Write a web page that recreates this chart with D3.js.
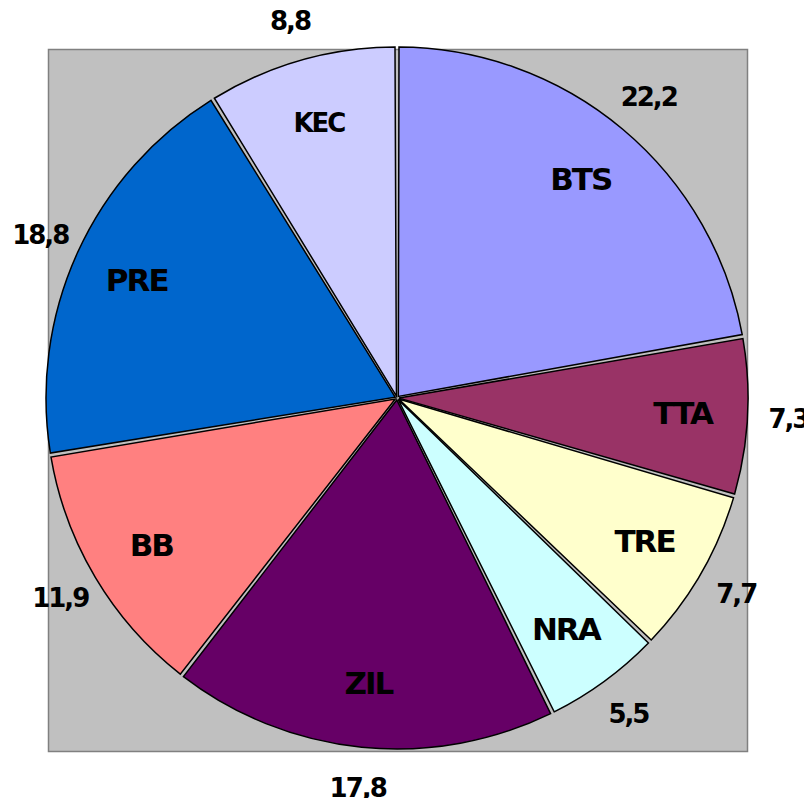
<!DOCTYPE html>
<html>
<head>
<meta charset="utf-8">
<script src="https://cdn.jsdelivr.net/npm/d3@7"></script>
<style>
  body { margin: 0; background: #fff; }
  text { font-family: "DejaVu Sans", Verdana, sans-serif; font-weight: bold; fill: #000; letter-spacing: -2px; }
</style>
</head>
<body>
<div id="chart"></div>
<script>
var categories = ["BTS", "TTA", "TRE", "NRA", "ZIL", "BB", "PRE", "KEC"];
var values = [22.2, 7.3, 7.7, 5.5, 17.8, 11.9, 18.8, 8.8];
var valueLabels = ["22,2", "7,3", "7,7", "5,5", "17,8", "11,9", "18,8", "8,8"];
var colors = ["#9999FF", "#993366", "#FFFFCC", "#CCFFFF", "#660066", "#FF8080", "#0066CC", "#CCCCFF"];

var svgWidth = 804;
var svgHeight = 798;

var cx = 397, cy = 398, radius = 351;

var svg = d3.select("#chart")
    .append("svg")
    .attr("width", svgWidth)
    .attr("height", svgHeight);

// plot area
svg.append("rect")
    .attr("x", 48.5)
    .attr("y", 49.5)
    .attr("width", 699)
    .attr("height", 702)
    .attr("fill", "#c0c0c0")
    .attr("stroke", "#808080")
    .attr("stroke-width", 1.5);

var data = categories.map(function(c, i) {
    return {name: c, value: values[i], label: valueLabels[i], color: colors[i]};
});

var pie = d3.pie()
    .value(d => d.value)
    .sort(null);

var arc = d3.arc()
    .innerRadius(2)
    .outerRadius(radius)
    .padAngle(0.04)
    .padRadius(100);

var nameArc = d3.arc().innerRadius(286).outerRadius(286);
var valueArc = d3.arc().innerRadius(392).outerRadius(392);

var g = svg.append("g")
    .attr("transform", `translate(${cx}, ${cy})`);

var arcs = pie(data);

g.selectAll("path")
    .data(arcs)
    .enter()
    .append("path")
    .attr("d", arc)
    .attr("fill", d => d.data.color)
    .attr("stroke", "#000")
    .attr("stroke-width", 1.5)
    .attr("stroke-linejoin", "miter");

g.selectAll("text.name")
    .data(arcs)
    .enter()
    .append("text")
    .classed("name", true)
    .attr("x", d => nameArc.centroid(d)[0])
    .attr("y", d => nameArc.centroid(d)[1])
    .attr("dy", "0.36em")
    .attr("text-anchor", "middle")
    .attr("font-size", d => d.data.name == "KEC" ? "26px" : "31px")
    .text(d => d.data.name);

g.selectAll("text.value")
    .data(arcs)
    .enter()
    .append("text")
    .classed("value", true)
    .attr("x", d => valueArc.centroid(d)[0])
    .attr("y", d => valueArc.centroid(d)[1])
    .attr("dy", "0.34em")
    .attr("text-anchor", "middle")
    .attr("font-size", "26px")
    .text(d => d.data.label);
</script>
</body>
</html>
